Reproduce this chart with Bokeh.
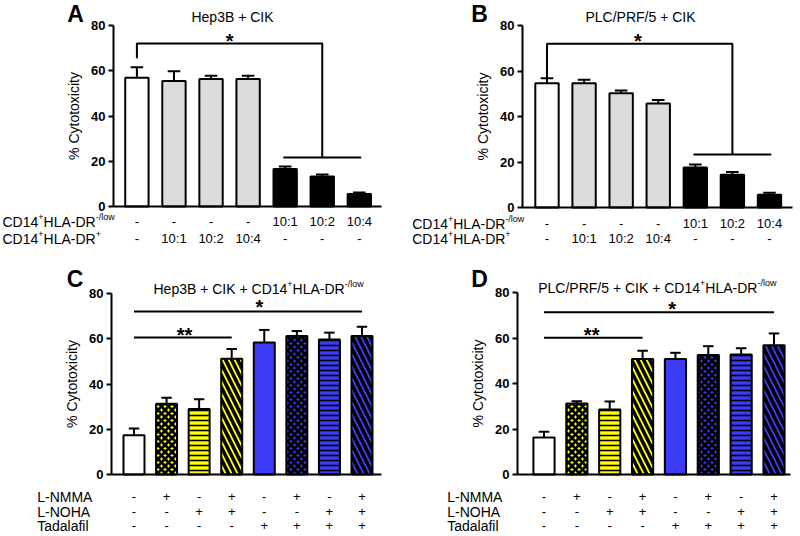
from bokeh.plotting import figure
from bokeh.models import ColumnDataSource, Label, Range1d, FixedTicker
from bokeh.layouts import column, row
from bokeh.embed import file_html
from bokeh.resources import INLINE
from bokeh.core.properties import value

FONT = "Liberation Sans"

# ---------------- data ----------------
A_values = [56.9, 55.5, 56.3, 56.3, 16.6, 13.3, 5.5]
A_sem = [4.7, 4.3, 1.5, 1.5, 1.1, 0.8, 0.7]
B_values = [54.6, 54.6, 50.2, 45.7, 17.6, 14.4, 5.6]
B_sem = [2.2, 1.5, 1.2, 1.6, 1.3, 1.2, 0.9]
C_values = [17.3, 31.3, 28.9, 51.2, 58.3, 61.2, 59.7, 61.2]
C_sem = [3.0, 2.6, 4.4, 4.3, 5.6, 2.2, 3.0, 4.1]
D_values = [16.3, 31.2, 28.6, 50.8, 50.8, 52.5, 52.7, 56.8]
D_sem = [2.5, 1.0, 3.5, 3.6, 2.7, 3.9, 2.8, 5.2]

Y_TICKS = [0, 20, 40, 60, 80]
Y_LABEL = "% Cytotoxicity"

A_title = [("Hep3B + CIK", False)]
B_title = [("PLC/PRF/5 + CIK", False)]
C_title = [("Hep3B + CIK + CD14", False), ("+", True), ("HLA-DR", False), ("-/low", True)]
D_title = [("PLC/PRF/5 + CIK + CD14", False), ("+", True), ("HLA-DR", False), ("-/low", True)]

AB_row_names = [
    [("CD14", False), ("+", True), ("HLA-DR", False), ("-/low", True)],
    [("CD14", False), ("+", True), ("HLA-DR", False), ("+", True)],
]
AB_rows = [
    ["-", "-", "-", "-", "10:1", "10:2", "10:4"],
    ["-", "10:1", "10:2", "10:4", "-", "-", "-"],
]
CD_row_names = [[("L-NMMA", False)], [("L-NOHA", False)], [("Tadalafil", False)]]
CD_rows = [
    ["-", "+", "-", "+", "-", "+", "-", "+"],
    ["-", "-", "+", "+", "-", "-", "+", "+"],
    ["-", "-", "-", "-", "+", "+", "+", "+"],
]

# significance brackets (x in bar positions, y in % cytotoxicity)
A_sig_xs = [[1, 1, 6, 6], [4.95, 7.05]]
A_sig_ys = [[65.5, 72, 72, 21.7], [21.7, 21.7]]
B_sig_xs = [[1, 1, 6, 6], [4.95, 7.05]]
B_sig_ys = [[55.5, 72, 72, 23.3], [23.3, 23.3]]
C_sig_xs = [[1, 8], [1, 4]]
C_sig_ys = [[72, 72], [60.5, 60.5]]
D_sig_xs = [[1, 8], [1, 4]]
D_sig_ys = [[71.3, 71.3], [60.1, 60.1]]
A_stars = dict(x=[3.5], y=[74.8], t=["*"])
B_stars = dict(x=[3.45], y=[74.9], t=["*"])
C_stars = dict(x=[4.85, 2.55], y=[75.6, 63.6], t=["*", "**"])
D_stars = dict(x=[4.9, 2.45], y=[74.3, 62.9], t=["*", "**"])

# ---------------- styles ----------------
AB_fill = ["white", "#dcdcdc", "#dcdcdc", "#dcdcdc", "black", "black", "black"]
AB_hatch = [" "] * 7
YEL = "#ffff00"
BLU = "#3c3cf6"
CD_fill = ["white", YEL, YEL, YEL, BLU, BLU, BLU, BLU]
CD_hatch = [" ", "x", "-", "\\", " ", "x", "-", "\\"]
CD_hscale = [8, 7, 5, 12, 8, 7, 5, 12]
CD_hweight = [1, 2.8, 1.6, 3.5, 1, 2.8, 1.6, 3.5]

# geometry of each panel in figure pixels (figure origin top-left)
LAYOUT = {
    "A": dict(w=400, h=252, ax=113, ax_end=381, y0=206, y80=25, c1=136.4, sp=37.07,
              letter=(75, 13), title_c=(232, 16.5), title_start=None, row_x=2, rows=[221, 238],
              bw=0.63, cap=0.17),
    "B": dict(w=400, h=252, ax=122, ax_end=392, y0=207, y80=25, c1=146.5, sp=37.08,
              letter=(79, 13), title_c=(240, 16.5), title_start=None, row_x=11.7, rows=[223, 238],
              bw=0.63, cap=0.17),
    "C": dict(w=400, h=284, ax=111, ax_end=381, y0=222, y80=41, c1=133.5, sp=32.57,
              letter=(74.5, 26), title_c=(None, 36), title_start=153, row_x=36.7, rows=[244, 259, 273],
              bw=0.645, cap=0.16),
    "D": dict(w=400, h=284, ax=117, ax_end=390, y0=222, y80=40, c1=143.5, sp=32.86,
              letter=(79, 26), title_c=(None, 35), title_start=137.7, row_x=46.7, rows=[244, 259, 273],
              bw=0.645, cap=0.16),
}

WID = {' ': .278, '+': .584, '-': .333, '/': .278, ':': .278, 'A': .667, 'B': .667, 'C': .722, 'D': .722,
       'F': .611, 'H': .722, 'I': .278, 'K': .667, 'L': .556, 'M': .833, 'N': .722, 'O': .778, 'P': .667,
       'R': .722, 'T': .611, 'a': .556, 'd': .556, 'e': .556, 'f': .278, 'i': .222, 'l': .222, 'o': .556,
       'p': .556, 'w': .722}


def tw(s, size):
    return sum(WID.get(c, 0.556) for c in s) * size


class Pan:
    def __init__(self, c):
        self.c = c
        self.ky = 80.0 / (c["y0"] - c["y80"])

    def dx(self, fx):
        return 1 + (fx - self.c["c1"]) / self.c["sp"]

    def dy(self, fy):
        return (self.c["y0"] - fy) * self.ky


def rich(p, pan, fx, fy, parts, size, align="left"):
    sup = round(size * 0.62)
    widths = [tw(t, sup if s else size) for t, s in parts]
    if align == "center":
        fx -= sum(widths) / 2
    for (t, s), w in zip(parts, widths):
        cy = fy - (0.30 * size if s else 0)
        p.add_layout(Label(x=pan.dx(fx), y=pan.dy(cy), text=t, text_font=FONT,
                           text_font_size=f"{sup if s else size}px", text_baseline="middle",
                           text_align="left", text_color="black"))
        fx += w


def make_panel(key, vals, sem, fills, hatches, hscale, hweight, title, row_names, rows,
               sig_xs, sig_ys, stars):
    c = LAYOUT[key]
    pan = Pan(c)
    xr = Range1d(pan.dx(0), pan.dx(c["w"]))
    yr = Range1d(pan.dy(c["h"]), pan.dy(0))
    p = figure(width=c["w"], height=c["h"], x_range=xr, y_range=yr,
               output_backend="svg", toolbar_location=None, tools="",
               min_border=0, min_border_left=0, min_border_right=0,
               min_border_top=0, min_border_bottom=0)
    p.outline_line_color = None
    p.grid.visible = False
    p.background_fill_color = "white"
    p.border_fill_color = "white"

    ax_x = pan.dx(c["ax"])
    p.xaxis.fixed_location = 0
    p.xaxis.bounds = (ax_x, pan.dx(c["ax_end"]))
    p.xaxis.ticker = FixedTicker(ticks=[])
    p.xaxis.axis_line_width = 2
    p.xaxis.major_tick_line_color = None
    p.xaxis.minor_tick_line_color = None
    p.xaxis.major_label_text_font_size = "0px"

    p.yaxis.fixed_location = ax_x
    p.yaxis.bounds = (0, 80)
    p.yaxis.ticker = FixedTicker(ticks=Y_TICKS)
    p.yaxis.axis_line_width = 2
    p.yaxis.major_tick_line_width = 2
    p.yaxis.major_tick_in = 0
    p.yaxis.major_tick_out = 5
    p.yaxis.minor_tick_line_color = None
    p.yaxis.major_label_text_font = FONT
    p.yaxis.major_label_text_font_size = "13px"
    p.yaxis.major_label_text_font_style = "bold"
    p.yaxis.major_label_text_color = "black"
    p.yaxis.major_label_standoff = 3
    p.yaxis.axis_label = Y_LABEL
    p.yaxis.axis_label_text_font = FONT
    p.yaxis.axis_label_text_font_size = "14px"
    p.yaxis.axis_label_text_font_style = "normal"
    p.yaxis.axis_label_text_color = "black"
    p.yaxis.axis_label_standoff = 6

    n = len(vals)
    xs = list(range(1, n + 1))
    tops = [v + s for v, s in zip(vals, sem)]
    src = ColumnDataSource(dict(x=xs, top=vals, fill=fills, hatch=hatches, hs=hscale, hw=hweight,
                                err=tops, cl=[x - c["cap"] for x in xs], cr=[x + c["cap"] for x in xs]))
    p.segment(x0="x", y0="top", x1="x", y1="err", source=src, line_color="black", line_width=2)
    p.segment(x0="cl", y0="err", x1="cr", y1="err", source=src, line_color="black", line_width=2)
    p.vbar(x="x", top="top", bottom=0, width=c["bw"], source=src, fill_color="fill",
           line_color="black", line_width=2, hatch_pattern="hatch", hatch_color="black",
           hatch_scale="hs", hatch_weight="hw")

    p.multi_line(xs=sig_xs, ys=sig_ys, line_color="black", line_width=2)
    # asterisks: anchor a few pixels below the visual centre of the glyph
    ssrc = ColumnDataSource(dict(x=stars["x"], y=[v - 4 * pan.ky for v in stars["y"]], t=stars["t"]))
    p.text(x="x", y="y", text="t", source=ssrc, text_font=value(FONT),
           text_font_size="20px", text_font_style="bold", text_align="center",
           text_baseline="middle", text_color="black")

    # panel letter
    lx, ly = c["letter"]
    p.add_layout(Label(x=pan.dx(lx), y=pan.dy(ly), text=key, text_font=FONT, text_font_size="23px",
                       text_font_style="bold", text_align="center", text_baseline="middle",
                       text_color="black"))
    # title
    tx, ty = c["title_c"]
    if c["title_start"] is None:
        rich(p, pan, tx, ty, title, 14, align="center")
    else:
        rich(p, pan, c["title_start"], ty, title, 14)

    # condition table below the axis
    for name, entries, fy in zip(row_names, rows, c["rows"]):
        rich(p, pan, c["row_x"], fy, name, 14)
        rsrc = ColumnDataSource(dict(x=xs, y=[pan.dy(fy)] * n, t=entries))
        p.text(x="x", y="y", text="t", source=rsrc, text_font=value(FONT),
               text_font_size="13px", text_align="center", text_baseline="middle",
               text_color="black")
    return p


pA = make_panel("A", A_values, A_sem, AB_fill, AB_hatch, [8] * 7, [1] * 7, A_title,
                AB_row_names, AB_rows, A_sig_xs, A_sig_ys, A_stars)
pB = make_panel("B", B_values, B_sem, AB_fill, AB_hatch, [8] * 7, [1] * 7, B_title,
                AB_row_names, AB_rows, B_sig_xs, B_sig_ys, B_stars)
pC = make_panel("C", C_values, C_sem, CD_fill, CD_hatch, CD_hscale, CD_hweight, C_title,
                CD_row_names, CD_rows, C_sig_xs, C_sig_ys, C_stars)
pD = make_panel("D", D_values, D_sem, CD_fill, CD_hatch, CD_hscale, CD_hweight, D_title,
                CD_row_names, CD_rows, D_sig_xs, D_sig_ys, D_stars)

layout = column(row(pA, pB), row(pC, pD))
open("out.html", "w").write(file_html(layout, INLINE))
